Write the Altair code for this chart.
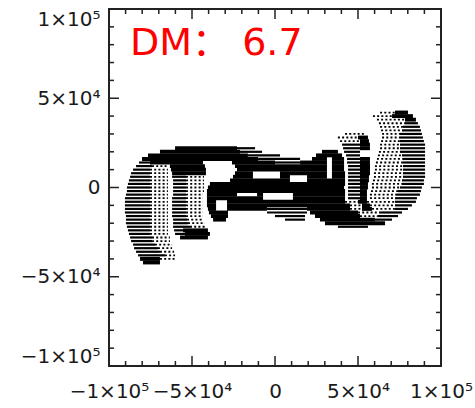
import altair as alt
import pandas as pd

# ---- values (units of 1e3) ----
major_ticks = [-100, -50, 0, 50, 100]
minor_ticks = [-90, -80, -70, -60, -40, -30, -20, -10, 10, 20, 30, 40, 60, 70, 80, 90]
tick_labels = ["−1×10⁵", "−5×10⁴", "0", "5×10⁴", "1×10⁵"]
annotation = "DM：\u00a06.7"

# solid scan segments: y, x start, x end
solid_y = [42, 40, 38, 28, 26, 24, 22, 22, 20, 20, 18, 18, 16, 16, 16, 16,
           14, 14, 14, 14, 14, 12, 12, 12, 12, 12, 10, 10, 10, 10, 10,
           8, 8, 8, 8, 8, 8, 6, 6, 6, 6, 6, 4, 4, 4, 2, 2, 0, 0, -2, -2,
           -4, -4, -4, -4, -6, -6, -6, -8, -8, -8, -10, -10, -10,
           -12, -12, -12, -12, -14, -14, -16, -16, -18, -18, -20,
           -24, -26, -28, -40, -42]
solid_x0 = [72.3, 70.5, 78.3, 50.0, 51.2, 51.2, -60.2, 51.2, -69.3, 28.3, -76.5, 24.7, -80.1, 22.3, 34.3, 51.2,
            -75.3, -25.9, 15.1, 34.3, 51.2, -63.3, -24.1, 34.3, 51.2, 51.2, -62.7, -22.9, 34.3, 51.2, 51.2,
            -62.0, -24.1, 3.0, 34.3, 51.2, 51.2, -25.3, 3.0, 19.3, 34.3, 51.2, -27.1, 19.3, 51.2, -39.2, 51.2, -40.4, 51.2, -41.0, 51.2,
            -41.0, -10.8, 10.8, 51.2, -41.0, 10.8, 51.2, -41.0, -28.9, 50.0, -41.0, -28.9, 52.4,
            -40.4, -28.9, 19.3, 52.4, -39.8, 21.1, -38.6, 24.1, -37.3, 27.1, 30.1,
            -55.4, -54.2, -57.2, -81.3, -79.5]
solid_x1 = [80.1, 83.1, 84.9, 56.0, 56.6, 57.2, -22.9, 57.2, -21.1, 37.9, -16.3, 40.4, -10.2, 31.3, 41.6, 57.2,
            -43.4, 0.0, 31.3, 41.6, 57.2, -42.2, 31.3, 41.6, 57.2, 57.2, -41.6, 31.3, 41.6, 57.2, 57.2,
            -41.6, -13.3, 31.3, 42.2, 57.2, 57.2, -13.3, 9.0, 31.3, 42.2, 56.6, 9.0, 42.2, 56.6, 42.2, 56.0, 41.6, 56.0, 42.2, 55.4,
            -22.9, -7.2, 42.2, 55.4, -7.2, 42.2, 55.4, -35.5, 42.2, 55.4, -35.5, 45.2, 57.2,
            -35.5, -4.8, 45.2, 58.4, -28.3, 50.0, -28.3, 51.2, -29.5, 60.2, 66.3,
            -40.4, -39.2, -40.4, -69.3, -69.3]

# hatched scan segments
hatch_y = [36, 34, 32, 30, 28, 26, 24, 24, 22, 22, 22, 20, 20, 20, 18, 18, 18, 16, 16, 16,
           14, 14, 14, 14, 12, 12, 12, 10, 10, 10, 8, 8, 8, 6, 6, 6, 6, 4, 4, 4, 4,
           2, 2, 2, 2, 0, 0, 0, 0, -2, -2, -2, -2, -4, -4, -4, -4, -6, -6, -6, -6,
           -8, -8, -8, -10, -10, -10, -12, -12, -12, -12, -14, -14, -14, -14,
           -16, -16, -16, -16, -18, -18, -18, -18, -20, -20, -22, -22, -22,
           -24, -24, -26, -26, -28, -30, -32, -34, -36, -38]
hatch_x0 = [78.3, 77.1, 76.5, 75.3, 75.3, 75.3, 40.4, 75.3, -22.9, 41.0, 75.3, -21.1, 41.6, 75.3, -16.3, 42.8, 76.5, -10.2, 43.4, 77.1,
            -81.9, 0.0, 43.4, 77.1, -83.7, 44.0, 77.1, -85.5, 44.0, 77.1, -86.7, 44.0, 77.1, -87.3, -62.0, 44.0, 77.1, -88.0, -61.4, 44.0, 76.5,
            -88.6, -61.4, 44.0, 76.5, -89.2, -61.4, 44.0, 75.3, -89.2, -61.4, 44.0, 74.1, -89.8, -61.4, 44.0, 72.9, -90.4, -62.0, 44.0, 72.3,
            -90.4, -62.0, 72.3, -90.4, -62.0, 72.3, -90.4, -62.0, -4.8, 72.3, -90.4, -62.0, -4.8, 63.3,
            -89.8, -62.0, 0.0, 62.0, -89.8, -61.4, 6.0, 60.2, -89.8, -61.4, -89.2, -61.4, 37.9,
            -88.6, -60.8, -88.0, -60.2, -87.3, -86.7, -85.5, -84.9, -83.7, -82.5]
hatch_x1 = [86.1, 87.3, 87.9, 88.5, 89.1, 89.7, 51.2, 90.4, -12.0, 51.2, 90.4, -7.8, 51.2, 90.4, 3.0, 51.2, 90.4, 15.1, 51.2, 90.4,
            -75.3, 15.1, 51.2, 90.4, -74.1, 51.2, 90.4, -75.3, 51.2, 90.4, -75.3, 51.2, 90.4, -75.3, -53.6, 51.2, 90.4, -75.3, -53.6, 51.2, 89.7,
            -75.3, -53.6, 51.2, 89.7, -75.3, -53.6, 51.2, 88.5, -75.3, -53.6, 51.2, 87.9, -75.3, -53.6, 51.2, 87.3, -75.3, -53.6, 51.2, 85.5,
            -75.3, -53.6, 84.9, -75.3, -53.6, 82.5, -75.3, -53.6, 19.3, 80.1, -75.3, -53.6, 19.3, 76.5,
            -75.3, -53.6, 18.1, 74.1, -75.3, -53.0, 18.1, 70.5, -75.3, -52.4, -75.3, -51.2, 56.0,
            -75.3, -55.4, -75.3, -54.2, -74.1, -74.1, -72.3, -70.5, -69.3, -66.3]

# dotted scan segments
dot_y = [42, 40, 38, 36, 34, 32, 30, 30, 28, 28, 26, 26, 24, 22, 20, 18, 16, 14, 12, 12, 10, 10, 8, 8,
         6, 6, 4, 4, 2, 2, 0, 0, -2, -2, -4, -4, -6, -6, -8, -8, -8, -8, -10, -10, -10, -10,
         -12, -12, -12, -12, -14, -14, -14, -16, -16, -16, -18, -18, -20, -20, -22, -22,
         -24, -26, -28, -30, -32, -34, -36, -38, -40,
         6, 4, 2, 0, -2, -4, -6]
dot_x0 = [63.3, 59.0, 61.4, 62.6, 63.3, 63.9, 42.2, 64.5, 37.9, 64.5, 39.2, 63.9, 63.3, 63.3, 62.6, 62.0, 61.4, 60.8, -74.1, 60.2, -75.3, 60.2, -75.3, 59.6,
          -75.3, 59.6, -75.3, 59.0, -75.3, 58.4, -75.3, 58.4, -75.3, 57.8, -75.3, 57.2, -75.3, 57.2, -75.3, -53.6, 42.2, 55.4, -75.3, -53.6, 45.2, 57.2,
          -75.3, -53.6, 45.2, 58.4, -75.3, -53.6, 50.0, -75.3, -53.6, 51.2, -75.3, -53.0, -75.3, -52.4, -75.3, -51.2,
          -75.3, -75.3, -74.1, -74.1, -72.3, -70.5, -69.3, -66.3, -69.3,
          -53.6, -53.6, -53.6, -53.6, -53.6, -53.6, -53.6]
dot_x1 = [72.3, 70.5, 78.3, 78.3, 77.1, 76.5, 54.2, 75.3, 50.0, 75.3, 51.2, 75.3, 75.3, 75.3, 75.3, 76.5, 77.1, 77.1, -64.5, 77.1, -64.5, 77.1, -64.5, 77.1,
          -64.5, 77.1, -64.5, 76.5, -64.5, 76.5, -64.5, 75.3, -64.5, 74.1, -64.5, 72.9, -64.5, 72.3, -64.5, -43.4, 50.0, 72.3, -64.5, -43.4, 52.4, 72.3,
          -64.5, -43.4, 52.4, 72.3, -64.5, -43.4, 63.3, -64.5, -43.4, 62.0, -64.5, -43.4, -64.5, -42.2, -64.5, -42.2,
          -64.5, -64.5, -63.3, -63.3, -62.0, -62.0, -60.8, -60.2, -60.2,
          -42.8, -42.8, -42.8, -42.8, -42.8, -43.4, -43.4]

W, H = 332, 357

solid_df = pd.DataFrame({"y": solid_y, "x0": solid_x0, "x1": solid_x1})
hatch_df = pd.DataFrame({"y": hatch_y, "x0": hatch_x0, "x1": hatch_x1})
dot_df = pd.DataFrame({"y": dot_y, "x0": dot_x0, "x1": dot_x1})

xs = alt.Scale(domain=[-100, 100], nice=False, zero=False)
ys = alt.Scale(domain=[-100, 100], nice=False, zero=False)

expr = " : ".join(
    f"datum.value == {v} ? '{t}'" for v, t in zip(major_ticks[:-1], tick_labels[:-1])
) + f" : '{tick_labels[-1]}'"

common_axis = dict(values=major_ticks, labelExpr=expr, tickSize=0, domain=False, grid=False,
                   labelFont="DejaVu Sans", labelFontSize=20, labelColor="#1a1a1a",
                   labelOverlap=False, title=None)
x_axis = alt.Axis(labelPadding=15, labelFlush=False, **common_axis)
y_axis = alt.Axis(labelPadding=9, labelFlush=True, **common_axis)


def segs(df, **mk):
    return alt.Chart(df).mark_rule(color="black", strokeCap="butt", **mk).encode(
        x=alt.X("x0:Q", scale=xs, axis=x_axis),
        x2="x1:Q",
        y=alt.Y("y:Q", scale=ys, axis=y_axis),
    )


solid = segs(solid_df, strokeWidth=3.9)
hatch = segs(hatch_df, strokeWidth=2.2)
dots = segs(dot_df, strokeWidth=1.8, strokeDash=[2, 2.2])

maj = pd.DataFrame({"v": major_ticks})
mnr = pd.DataFrame({"v": minor_ticks})


def ticks(df, length):
    base = alt.Chart(df).mark_rule(color="#222", strokeWidth=1.5)
    top = base.encode(x=alt.X("v:Q", scale=xs, axis=x_axis), y=alt.value(0), y2=alt.value(length))
    bot = base.encode(x=alt.X("v:Q", scale=xs, axis=x_axis), y=alt.value(H), y2=alt.value(H - length))
    left = base.encode(y=alt.Y("v:Q", scale=ys, axis=y_axis), x=alt.value(0), x2=alt.value(length))
    right = base.encode(y=alt.Y("v:Q", scale=ys, axis=y_axis), x=alt.value(W), x2=alt.value(W - length))
    return [top, bot, left, right]


label = alt.Chart(pd.DataFrame({"t": [annotation]})).mark_text(
    align="left", baseline="alphabetic", font="DejaVu Sans, Noto Sans CJK SC", fontSize=38, color="#ff0000"
).encode(x=alt.value(21), y=alt.value(46), text="t:N")

chart = alt.layer(
    hatch, dots, solid, *ticks(mnr, 5), *ticks(maj, 10), label
).properties(
    width=W, height=H,
    autosize=alt.AutoSizeParams(type="none"),
    padding={"left": 109, "top": 9, "right": 34, "bottom": 42},
    background="white",
).configure_view(stroke="#222", strokeWidth=2)

chart.save("out.html", embed_options={"renderer": "svg", "actions": False})
